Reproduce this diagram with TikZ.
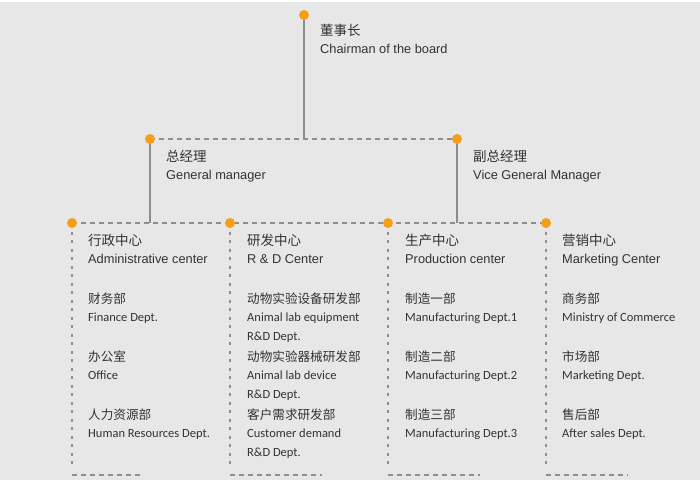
\documentclass[tikz,border=0pt]{standalone}
\usepackage{fontspec}
\setmainfont{Liberation Sans}
\newfontfamily\cjk{Noto Sans CJK SC}
\newfontfamily\detfont{Carlito}
\definecolor{bgc}{HTML}{E7E7E7}
\definecolor{dotc}{RGB}{245,158,27}
\definecolor{linec}{HTML}{8E8E8E}
\definecolor{txtc}{HTML}{333333}
\tikzset{
  dotnode/.style={circle,fill=dotc,inner sep=0pt,minimum size=10pt},
  solidline/.style={draw=linec,line width=1.5pt},
  hdash/.style={draw=linec,line width=1.2pt,dash pattern=on 5pt off 4pt},
  vdash/.style={draw=linec,line width=1.1pt,dash pattern=on 3pt off 5.5pt},
  cjkh/.style={anchor=base west,inner sep=0pt,text=txtc,font=\cjk\fontsize{13.5}{15}\selectfont},
  lath/.style={anchor=base west,inner sep=0pt,text=txtc,font=\fontsize{12.8}{15}\selectfont},
  cjkd/.style={anchor=base west,inner sep=0pt,text=txtc,font=\cjk\fontsize{12.6}{15}\selectfont},
  latd/.style={anchor=base west,inner sep=0pt,text=txtc,font=\detfont\fontsize{12.5}{15}\selectfont},
}
\begin{document}
\begin{tikzpicture}[x=1pt,y=-1pt]
\useasboundingbox (0,0) rectangle (700,482);
\fill[white] (0,0) rectangle (700,482);
\fill[bgc] (0,1.5) rectangle (700,479.5);
% positions
\coordinate (pTop) at (304,15);
\coordinate (jTop) at (304,139);
\coordinate (pGM) at (150,139);
\coordinate (pVGM) at (457,139);
\coordinate (jGM) at (150,223);
\coordinate (jVGM) at (457,223);
\coordinate (pA) at (72,223);
\coordinate (pB) at (230,223);
\coordinate (pC) at (388,223);
\coordinate (pD) at (546,223);
\foreach \n/\x/\e in {A/72/143,B/230/322,C/388/480,D/546/628}{
  \coordinate (v\n) at (\x,468);
  \coordinate (b\n) at (\x,475);
  \coordinate (e\n) at (\e,475);
}
% connectors
\draw[solidline] (pTop) -- (jTop);
\draw[hdash] (pGM) -- (pVGM);
\draw[solidline] (pGM) -- (jGM);
\draw[solidline] (pVGM) -- (jVGM);
\draw[hdash] (pA) -- (pD);
\foreach \n in {A,B,C,D}{
  \draw[vdash] (p\n) -- (v\n);
  \draw[hdash] (b\n) -- (e\n);
}
% dots
\node[dotnode] (dTop) at (pTop) {};
\node[dotnode] (dGM) at (pGM) {};
\node[dotnode] (dVGM) at (pVGM) {};
\node[dotnode] (dA) at (pA) {};
\node[dotnode] (dB) at (pB) {};
\node[dotnode] (dC) at (pC) {};
\node[dotnode] (dD) at (pD) {};
% top texts
\node[cjkh] (t1) at (320,35) {董事长};
\node[lath] (t2) at (320,53) {Chairman of the board};
\node[cjkh] (g1) at (166,161) {总经理};
\node[lath] (g2) at (166,179) {General manager};
\node[cjkh] (v1) at (473,161) {副总经理};
\node[lath] (v2) at (473,179) {Vice General Manager};
% column A
\node[cjkh] (a1) at (88,245) {行政中心};
\node[lath] (a2) at (88,263) {Administrative center};
\node[cjkd] (a3) at (88,303) {财务部};
\node[latd] (a4) at (88,321) {Finance Dept.};
\node[cjkd] (a5) at (88,361) {办公室};
\node[latd] (a6) at (88,379) {Office};
\node[cjkd] (a7) at (88,419) {人力资源部};
\node[latd] (a8) at (88,437) {Human Resources Dept.};
% column B
\node[cjkh] (b1) at (247,245) {研发中心};
\node[lath] (b2) at (247,263) {R \& D Center};
\node[cjkd] (b3) at (247,303) {动物实验设备研发部};
\node[latd] (b4) at (247,321) {Animal lab equipment};
\node[latd] (b5) at (247,340) {R\&D Dept.};
\node[cjkd] (b6) at (247,361) {动物实验器械研发部};
\node[latd] (b7) at (247,379) {Animal lab device};
\node[latd] (b8) at (247,398) {R\&D Dept.};
\node[cjkd] (b9) at (247,419) {客户需求研发部};
\node[latd] (b10) at (247,437) {Customer demand};
\node[latd] (b11) at (247,456) {R\&D Dept.};
% column C
\node[cjkh] (c1) at (405,245) {生产中心};
\node[lath] (c2) at (405,263) {Production center};
\node[cjkd] (c3) at (405,303) {制造一部};
\node[latd] (c4) at (405,321) {Manufacturing Dept.1};
\node[cjkd] (c5) at (405,361) {制造二部};
\node[latd] (c6) at (405,379) {Manufacturing Dept.2};
\node[cjkd] (c7) at (405,419) {制造三部};
\node[latd] (c8) at (405,437) {Manufacturing Dept.3};
% column D
\node[cjkh] (d1) at (562,245) {营销中心};
\node[lath] (d2) at (562,263) {Marketing Center};
\node[cjkd] (d3) at (562,303) {商务部};
\node[latd] (d4) at (562,321) {Ministry of Commerce};
\node[cjkd] (d5) at (562,361) {市场部};
\node[latd] (d6) at (562,379) {Marketing Dept.};
\node[cjkd] (d7) at (562,419) {售后部};
\node[latd] (d8) at (562,437) {After sales Dept.};
\end{tikzpicture}
\end{document}
